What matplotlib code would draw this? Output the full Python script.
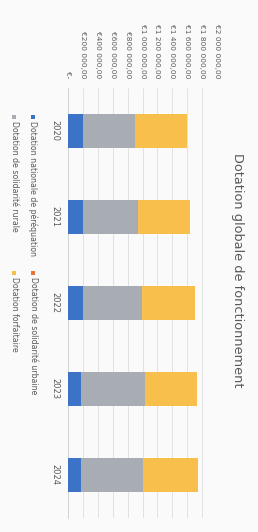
import matplotlib
matplotlib.use("Agg")
import matplotlib.pyplot as plt
from matplotlib.patches import Rectangle

years = ["2020", "2021", "2022", "2023", "2024"]
series_names = ["Dotation nationale de péréquation", "Dotation de solidarité urbaine",
                "Dotation de solidarité rurale", "Dotation forfaitaire"]
dnp = [195000, 195000, 195000, 180000, 168000]
dsu = [0, 0, 0, 0, 0]
dsr = [705000, 750000, 795000, 853000, 845000]
df = [697000, 697000, 718000, 705000, 728000]
series_values = [dnp, dsu, dsr, df]
series_colors = ["#3c73c6", "#e8733a", "#a8acb3", "#f8bf4c"]
tick_values = [0, 200000, 400000, 600000, 800000, 1000000, 1200000, 1400000,
               1600000, 1800000, 2000000]
tick_labels = ["€-", "€200 000,00", "€400 000,00", "€600 000,00", "€800 000,00",
               "€1 000 000,00", "€1 200 000,00", "€1 400 000,00", "€1 600 000,00",
               "€1 800 000,00", "€2 000 000,00"]
title = "Dotation globale de fonctionnement"

W, H = 258, 532
fig = plt.figure(figsize=(W / 100, H / 100), dpi=100)
fig.patch.set_facecolor("#fafafa")

ax = fig.add_axes([68 / W, 1 - 518 / H, (217 - 68) / W, (518 - 88) / H])
ax.set_facecolor("#fafafa")

pos = list(range(len(years)))
left = [0] * len(years)
for vals, col, name in zip(series_values, series_colors, series_names):
    ax.barh(pos, vals, left=left, height=0.39, color=col, label=name, zorder=3)
    left = [a + b for a, b in zip(left, vals)]

ax.set_xlim(0, 2000000)
ax.set_ylim(len(years) - 0.5, -0.5)
ax.xaxis.tick_top()
ax.set_xticks(tick_values)
ax.set_xticklabels(tick_labels, rotation=270, ha="center", va="bottom",
                   fontsize=5.3, color="#595959")
ax.tick_params(axis="x", length=0, pad=7)
ax.set_yticks(pos)
ax.set_yticklabels(years, rotation=270, ha="center", va="center",
                   fontsize=6, color="#595959")
ax.tick_params(axis="y", length=0, pad=9.5)
ax.grid(axis="x", color="#dedede", linewidth=0.6, zorder=0)
for s in ["top", "right", "bottom"]:
    ax.spines[s].set_visible(False)
ax.spines["left"].set_color("#d0d0d0")
ax.spines["left"].set_linewidth(0.6)

fig.text(237 / W, 1 - 270 / H, title, rotation=270, ha="center", va="center",
         fontsize=9.3, color="#595959")

# legend (rotated layout, 2 x 2)
leg_pos = [(33, 117), (33, 273), (14, 117), (14, 273)]
sq = 4.5
for (lx, ly), col, name in zip(leg_pos, series_colors, series_names):
    fig.add_artist(Rectangle(((lx - sq / 2) / W, 1 - (ly + sq / 2) / H), sq / W, sq / H,
                             transform=fig.transFigure, facecolor=col, edgecolor="none"))
    fig.text(lx / W, 1 - (ly + 4) / H, name, rotation=270, ha="center", va="top",
             fontsize=5.6, color="#595959")

fig.savefig("out.png", dpi=100, facecolor=fig.get_facecolor())
